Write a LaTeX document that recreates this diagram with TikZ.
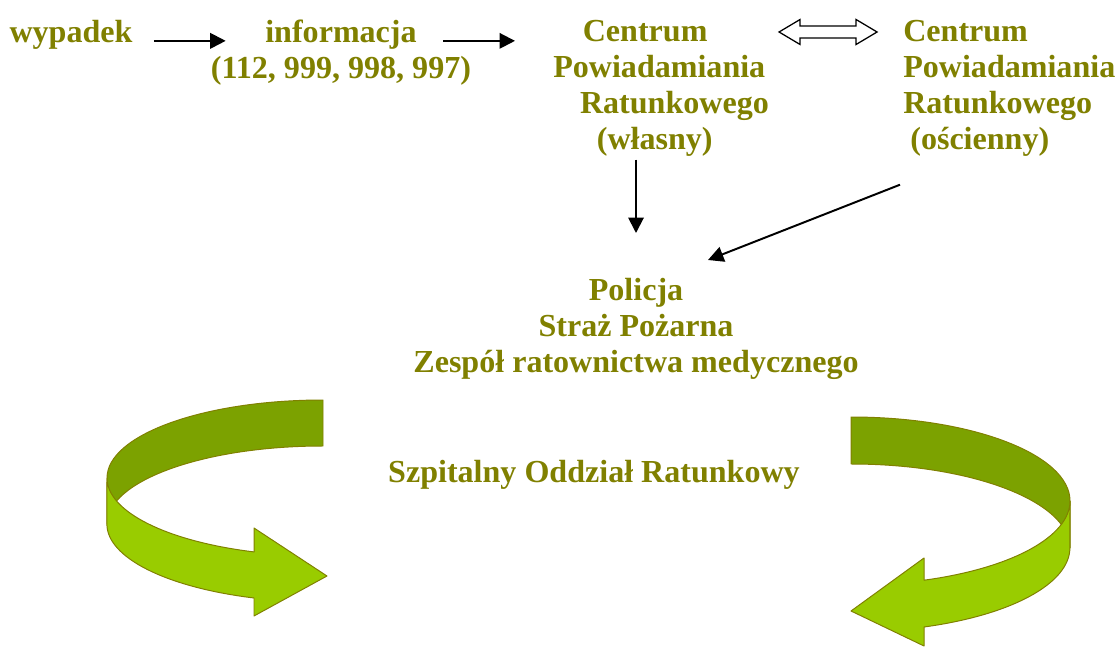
\documentclass[tikz,border=0pt]{standalone}
\usepackage{fontspec}
\setmainfont{Liberation Serif}
\usetikzlibrary{calc,arrows.meta}

\definecolor{olivetext}{RGB}{128,128,0}
\definecolor{bandback}{RGB}{124,162,0}
\definecolor{bandfront}{RGB}{153,204,0}

\tikzset{
    lbl/.style={text=olivetext, font=\fontsize{22.8}{25.6}\selectfont\bfseries, inner sep=0pt, anchor=north},
    arr/.style={line width=1.4pt, -{Triangle[length=11pt,width=11pt]}},
    hollow/.style={draw, fill=white, line width=0.9pt, line join=miter},
    band/.style={draw=olivetext, line width=0.7pt, line join=round},
}

\begin{document}
\begin{tikzpicture}[x=0.025cm, y=-0.025cm]
    \useasboundingbox (0,0) rectangle (1116,648);

    \node[lbl] (wyp) at (71,20) {wypadek};
    \node[lbl, align=center] (info) at (341,20) {informacja\\(112, 999, 998, 997)};
    \node[lbl, align=left, anchor=north west] (cpr) at (553,20)
        {\hspace*{21pt}Centrum\\Powiadamiania\\\hspace*{19pt}Ratunkowego\\\hspace*{31pt}(własny)};
    \node[lbl, align=left, anchor=north west] (cps) at (903,20)
        {Centrum\\Powiadamiania\\Ratunkowego\\\hspace*{5pt}(ościenny)};
    \node[lbl, align=center] (pol) at (636,278) {Policja\\Straż Pożarna\\Zespół ratownictwa medycznego};
    \node[lbl] (sor) at (594,460) {Szpitalny Oddział Ratunkowy};

    \draw[arr] ($(wyp.east)+(21,6)$) -- ($(wyp.east -| info.west)+(15,6)$);
    \draw[arr] ($(wyp.east -| info.east)+(-28,6)$) -- ($(wyp.east -| cpr.west)+(-38,6)$);

    \coordinate (link) at ($(cpr.north east)!0.5!(cps.north west)+(-8,12)$);
    \draw[hollow] ($(link)+(-49,0)$) -- ++(21,-12.5) -- ++(0,6.5) -- ++(56,0) -- ++(0,-6.5)
        -- ++(21,12.5) -- ++(-21,12.5) -- ++(0,-6.5) -- ++(-56,0) -- ++(0,6.5) -- cycle;

    \draw[arr] ($(cpr.south -| pol.north)+(0,3)$) -- ($(pol.north)+(0,-45)$);
    \draw[arr] ($(cps.south west)+(-3,28)$) -- ($(pol.north)+(72,-18)$);

    % left ribbon
    \filldraw[band, fill=bandback] (323,400) arc[start angle=270, end angle=180, x radius=216, y radius=78]
        -- ++(0,46) arc[start angle=180, end angle=270, x radius=216, y radius=78] -- cycle;
    \filldraw[band, fill=bandfront] (107,478) arc[start angle=180, end angle=108.6, x radius=216, y radius=78]
        -- (254,528) -- (327,576) -- (254,616) -- (254,598)
        arc[start angle=108.6, end angle=180, x radius=216, y radius=78] -- cycle;

    % right ribbon
    \filldraw[band, fill=bandback] (851,417) arc[start angle=270, end angle=360, x radius=219, y radius=84]
        -- ++(0,47) arc[start angle=360, end angle=270, x radius=219, y radius=84] -- cycle;
    \filldraw[band, fill=bandfront] (1070,501) arc[start angle=0, end angle=70.5, x radius=219, y radius=84]
        -- (924,558) -- (851,611) -- (924,646) -- (924,627)
        arc[start angle=70.5, end angle=0, x radius=219, y radius=84] -- cycle;
\end{tikzpicture}
\end{document}
